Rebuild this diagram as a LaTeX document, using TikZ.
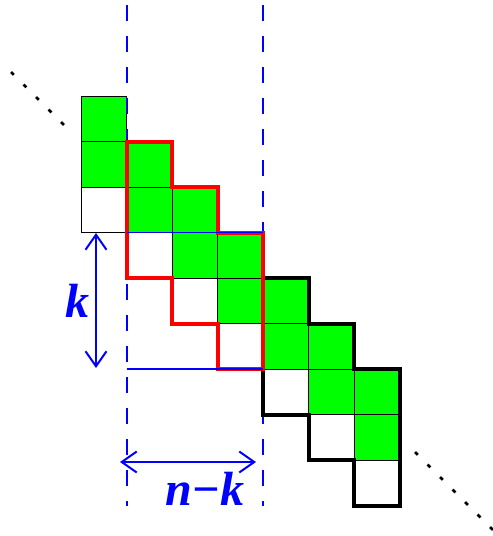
\documentclass[tikz,border=0pt]{standalone}
\usepackage{fontspec}
\setmainfont{Liberation Serif}
\usetikzlibrary{arrows.meta}
\definecolor{grn}{RGB}{0,255,0}
\tikzset{
  cellbox/.style={draw=black,line width=0.8pt},
  redline/.style={draw=red,line width=4pt},
  blackline/.style={draw=black,line width=4pt},
  bluedash/.style={draw=blue,line width=2pt,dash pattern=on 15.5pt off 15.5pt},
  bluethin/.style={draw=blue,line width=1.6pt},
  dimarrow/.style={draw=blue,line width=2pt,{Straight Barb[length=15pt,width=21pt]}-{Straight Barb[length=15pt,width=21pt]}},
  dotline/.style={draw=black,line width=2.6pt,dash pattern=on 4pt off 13.7pt},
  lbl/.style={text=blue,font=\bfseries\itshape\fontsize{48}{48}\selectfont,inner sep=0pt}
}
\begin{document}
\begin{tikzpicture}[x=1pt,y=-1pt]
\useasboundingbox (0,0) rectangle (493,536);
\begin{scope}[shift={(81pt,-96pt)},x=45.5pt,y=-45.5pt]
  \foreach \c in {0,...,6}{
    \filldraw[fill=grn,cellbox] (\c,\c) rectangle ++(1,1);
    \filldraw[fill=grn,cellbox] (\c,\c+1) rectangle ++(1,1);
    \filldraw[fill=white,cellbox] (\c,\c+2) rectangle ++(1,1);
  }
\end{scope}
% dashed verticals
\coordinate (d1t) at (126.5,5);
\coordinate (d1b) at (126.5,506);
\coordinate (d2t) at (263,5);
\coordinate (d2b) at (263,506);
\draw[bluedash] (d1t) -- (d1b);
\draw[bluedash] (d2t) -- (d2b);
\begin{scope}[shift={(81pt,-96pt)},x=45.5pt,y=-45.5pt]
  \draw[blackline] (4,4) -- (5,4) -- (5,5) -- (6,5) -- (6,6) -- (7,6) -- (7,9) -- (6,9) -- (6,8) -- (5,8) -- (5,7) -- (4,7) -- cycle;
  \draw[redline] (1,1) -- (2,1) -- (2,2) -- (3,2) -- (3,3) -- (4,3) -- (4,6) -- (3,6) -- (3,5) -- (2,5) -- (2,4) -- (1,4) -- cycle;
\end{scope}
% blue horizontals
\coordinate (h1a) at (126.5,232.5);
\coordinate (h1b) at (263,232.5);
\coordinate (h2a) at (126.5,369);
\coordinate (h2b) at (263,369);
\draw[bluethin] (h1a) -- (h1b);
\draw[bluethin] (h2a) -- (h2b);
% dimension arrows
\coordinate (ka) at (96,233);
\coordinate (kb) at (96,368);
\draw[dimarrow] (ka) -- (kb);
\coordinate (na) at (120,462);
\coordinate (nb) at (256,462);
\draw[dimarrow] (na) -- (nb);
\node[lbl,anchor=base] (klab) at (77,317) {k};
\node[lbl,anchor=base] (nklab) at (205,505) {n−k};
% dotted diagonals
\coordinate (p1) at (11,72);
\coordinate (p2) at (67,128);
\draw[dotline] (p1) -- (p2);
\coordinate (q1) at (415,452);
\coordinate (q2) at (495,532);
\draw[dotline] (q1) -- (q2);
\end{tikzpicture}
\end{document}
